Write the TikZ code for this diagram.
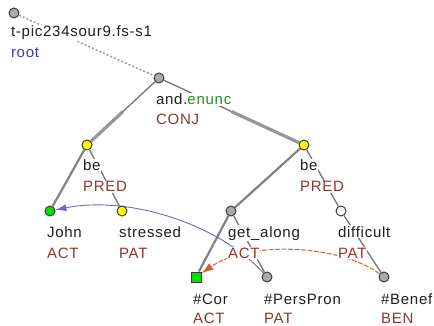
\documentclass[tikz,border=0pt]{standalone}
\usepackage{fontspec}
\setmainfont{Liberation Sans}[LetterSpace=5]
\usetikzlibrary{calc,arrows.meta}
\pgfdeclarelayer{bg}
\pgfsetlayers{bg,main}
\definecolor{txtcol}{RGB}{30,30,30}
\definecolor{fncol}{RGB}{140,55,45}
\definecolor{rootcol}{RGB}{60,60,190}
\definecolor{enuncol}{RGB}{40,140,40}
\definecolor{thincol}{RGB}{115,115,115}
\definecolor{thickcol}{RGB}{150,150,150}
\definecolor{midcol}{RGB}{130,130,130}
\definecolor{bordercol}{RGB}{60,60,60}
\definecolor{nodegray}{RGB}{170,170,170}
\definecolor{nodeyellow}{RGB}{255,255,0}
\definecolor{nodegreen}{RGB}{0,225,0}
\definecolor{corefblue}{RGB}{105,105,205}
\definecolor{corefred}{RGB}{215,95,60}
\begin{document}
\begin{tikzpicture}[x=1pt,y=-1pt,
  tnode/.style={circle,draw=bordercol,line width=1pt,minimum size=10pt,inner sep=0pt},
  graynode/.style={tnode,fill=nodegray},
  yellownode/.style={tnode,fill=nodeyellow},
  greennode/.style={tnode,fill=nodegreen},
  whitenode/.style={tnode,fill=white},
  sqnode/.style={rectangle,draw=bordercol,line width=1pt,minimum size=10pt,inner sep=0pt,fill=nodegreen},
  lbl/.style={anchor=base west,fill=white,inner sep=0.8pt,text=txtcol,font=\fontsize{15}{18}\selectfont},
  fnlbl/.style={lbl,text=fncol},
  thinedge/.style={draw=thincol,line width=1.3pt},
  midedge/.style={draw=midcol,line width=2.2pt},
  coordedge/.style={draw=thickcol,line width=3.2pt},
  rootedge/.style={draw=thickcol,line width=1.4pt,dash pattern=on 2pt off 2pt},
  bluearrow/.style={draw=corefblue,line width=0.9pt,-{Latex[length=11pt,width=7pt]}},
  redarrow/.style={draw=corefred,line width=1pt,dash pattern=on 5pt off 1.5pt,-{Latex[length=12pt,width=8pt]}}
]
\useasboundingbox (0,0) rectangle (434,326);

% tree nodes
\node[graynode] (root) at (14,13) {};
\node[graynode] (and) at (159,78) {};
\node[yellownode] (beL) at (87,145) {};
\node[yellownode] (beR) at (304,145) {};
\node[greennode] (john) at (50,211) {};
\node[yellownode] (stressed) at (122,211) {};
\node[graynode] (getalong) at (231,211) {};
\node[whitenode] (difficult) at (341,211) {};
\node[sqnode] (cor) at (196,277) {};
\node[graynode] (perspron) at (267,277) {};
\node[graynode] (benef) at (384,277) {};

% edges and arrows
\begin{pgfonlayer}{bg}
\draw[rootedge] (root) -- (and);
\coordinate (mL) at ($(and)!.5!(beL)$);
\coordinate (mR) at ($(and)!.5!(beR)$);
\draw[thinedge] (and) -- (mL);
\draw[coordedge] (mL) -- (beL);
\draw[thinedge] (and) -- (mR);
\draw[coordedge] (mR) -- (beR);
\draw[midedge] (beL) -- (john);
\draw[thinedge] (beL) -- (stressed);
\draw[midedge] (beR) -- (getalong);
\draw[thinedge] (beR) -- (difficult);
\draw[midedge] (getalong) -- (cor);
\draw[thinedge] (getalong) -- (perspron);
\draw[thinedge] (difficult) -- (benef);
\draw[bluearrow] (perspron) .. controls (220,225) and (130,195) .. (john);
\draw[redarrow] (benef) .. controls (340,245) and (250,240) .. (cor);
\end{pgfonlayer}

% labels
\node[lbl] (rootA) at ($(root)+(-4,24)$) {t-pic234sour9.fs-s1};
\node[lbl,text=rootcol] (rootB) at ($(root)+(-4,45)$) {root};
\node[lbl] (andA) at ($(and)+(-4,27)$) {and.\textcolor{enuncol}{enunc}};
\node[fnlbl] (andB) at ($(and)+(-4,47)$) {CONJ};
\node[lbl] (beLA) at ($(beL)+(-5,26)$) {be};
\node[fnlbl] (beLB) at ($(beL)+(-5,47)$) {PRED};
\node[lbl] (beRA) at ($(beR)+(-5,26)$) {be};
\node[fnlbl] (beRB) at ($(beR)+(-5,47)$) {PRED};
\node[lbl] (johnA) at ($(john)+(-4,26)$) {John};
\node[fnlbl] (johnB) at ($(john)+(-4,47)$) {ACT};
\node[lbl] (stressedA) at ($(stressed)+(-4,26)$) {stressed};
\node[fnlbl] (stressedB) at ($(stressed)+(-4,47)$) {PAT};
\node[lbl] (getalongA) at ($(getalong)+(-4,26)$) {get\_along};
\node[fnlbl] (getalongB) at ($(getalong)+(-4,47)$) {ACT};
\node[lbl] (difficultA) at ($(difficult)+(-4,26)$) {difficult};
\node[fnlbl] (difficultB) at ($(difficult)+(-4,47)$) {PAT};
\node[lbl] (corA) at ($(cor)+(-4,27)$) {\#Cor};
\node[fnlbl] (corB) at ($(cor)+(-4,46)$) {ACT};
\node[lbl] (perspronA) at ($(perspron)+(-4,27)$) {\#PersPron};
\node[fnlbl] (perspronB) at ($(perspron)+(-4,46)$) {PAT};
\node[lbl] (benefA) at ($(benef)+(-4,27)$) {\#Benef};
\node[fnlbl] (benefB) at ($(benef)+(-4,46)$) {BEN};
\end{tikzpicture}
\end{document}
